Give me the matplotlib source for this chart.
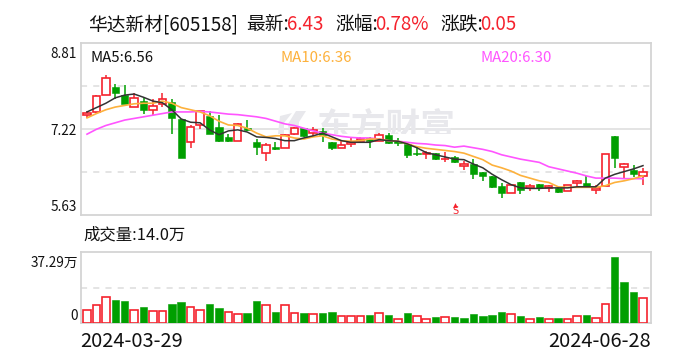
import matplotlib
matplotlib.use("Agg")
import matplotlib.pyplot as plt
from matplotlib.patches import Rectangle

plt.rcParams['font.family'] = ['Noto Sans CJK SC', 'DejaVu Sans']

W = 688
H = 360

# open, close, high, low
opens = [7.47, 7.53, 7.84, 7.99, 7.84, 7.63, 7.73, 7.57, 7.67, 7.71,
         7.40, 6.97, 7.29, 7.45, 7.25, 7.07, 6.99, 7.23, 6.98, 6.77,
         6.89, 6.87, 7.13, 7.23, 7.15, 7.18, 6.98, 6.86, 6.94, 6.99,
         7.05, 7.00, 7.11, 6.99, 6.94, 6.78, 6.76, 6.77, 6.66, 6.70,
         6.54, 6.57, 6.42, 6.35, 6.17, 6.04, 6.24, 6.12, 6.20, 6.12,
         6.13, 6.08, 6.22, 6.22, 6.10, 6.16, 7.09, 6.51, 6.46, 6.34]
closes = [7.51, 7.83, 8.16, 7.87, 7.67, 7.79, 7.56, 7.64, 7.76, 7.41,
          6.69, 7.25, 7.54, 7.13, 7.00, 7.00, 7.31, 7.19, 6.89, 6.92,
          6.84, 7.10, 7.23, 7.08, 7.20, 7.10, 6.87, 6.92, 6.97, 7.03,
          7.00, 7.10, 6.95, 6.95, 6.73, 6.75, 6.78, 6.67, 6.67, 6.60,
          6.57, 6.39, 6.35, 6.15, 6.04, 6.18, 6.10, 6.17, 6.12, 6.16,
          6.06, 6.18, 6.25, 6.14, 6.13, 6.75, 6.69, 6.57, 6.38, 6.42]
highs = [7.55, 7.85, 8.21, 8.05, 8.02, 7.88, 7.81, 7.77, 7.87, 7.76,
         7.40, 7.28, 7.54, 7.54, 7.48, 7.13, 7.33, 7.39, 7.03, 6.96,
         6.98, 7.12, 7.25, 7.23, 7.25, 7.24, 6.98, 7.00, 7.05, 7.06,
         7.07, 7.14, 7.14, 7.05, 6.96, 6.89, 6.81, 6.78, 6.79, 6.71,
         6.63, 6.67, 6.42, 6.35, 6.22, 6.18, 6.24, 6.20, 6.20, 6.18,
         6.15, 6.18, 6.28, 6.34, 6.18, 6.75, 7.09, 6.59, 6.55, 6.49]
lows = [7.42, 7.51, 7.84, 7.77, 7.67, 7.63, 7.50, 7.48, 7.63, 7.12,
        6.69, 6.86, 7.22, 7.12, 6.97, 6.97, 6.99, 7.17, 6.73, 6.62,
        6.82, 6.87, 7.10, 7.06, 7.09, 6.98, 6.82, 6.86, 6.89, 6.97,
        6.87, 6.99, 6.94, 6.91, 6.68, 6.71, 6.66, 6.65, 6.60, 6.58,
        6.46, 6.30, 6.26, 6.13, 5.94, 6.04, 6.02, 6.07, 6.08, 6.05,
        6.04, 6.08, 6.15, 6.14, 6.02, 6.16, 6.50, 6.29, 6.33, 6.19]

ma5 = [7.53, 7.61, 7.69, 7.79, 7.84, 7.86, 7.80, 7.73, 7.70, 7.57,
       7.40, 7.34, 7.33, 7.20, 7.11, 7.18, 7.20, 7.16, 7.07, 7.06,
       7.04, 7.00, 7.00, 7.05, 7.09, 7.14, 7.07, 7.00, 6.97, 6.97,
       6.97, 7.02, 7.00, 6.99, 6.94, 6.87, 6.78, 6.74, 6.70, 6.66,
       6.65, 6.57, 6.50, 6.38, 6.28, 6.19, 6.13, 6.12, 6.12, 6.13,
       6.13, 6.13, 6.15, 6.15, 6.15, 6.31, 6.38, 6.43, 6.48, 6.54]
ma10 = [7.42, 7.50, 7.57, 7.62, 7.65, 7.68, 7.69, 7.69, 7.73, 7.69,
        7.61, 7.57, 7.53, 7.46, 7.36, 7.29, 7.28, 7.23, 7.14, 7.07,
        7.09, 7.09, 7.05, 7.03, 7.07, 7.09, 7.03, 7.00, 6.99, 7.00,
        7.03, 7.03, 7.00, 6.99, 6.94, 6.89, 6.86, 6.84, 6.82, 6.80,
        6.77, 6.71, 6.65, 6.55, 6.50, 6.44, 6.36, 6.31, 6.26, 6.23,
        6.15, 6.14, 6.14, 6.14, 6.14, 6.17, 6.23, 6.26, 6.30, 6.35]
ma20 = [7.12, 7.21, 7.28, 7.33, 7.38, 7.41, 7.44, 7.47, 7.50, 7.53,
        7.53, 7.53, 7.54, 7.53, 7.51, 7.49, 7.48, 7.46, 7.44, 7.41,
        7.36, 7.31, 7.28, 7.23, 7.18, 7.14, 7.11, 7.08, 7.06, 7.05,
        7.05, 7.03, 7.00, 6.99, 6.97, 6.95, 6.94, 6.92, 6.91, 6.88,
        6.90, 6.87, 6.84, 6.80, 6.74, 6.70, 6.66, 6.63, 6.60, 6.52,
        6.48, 6.44, 6.40, 6.35, 6.31, 6.31, 6.31, 6.30, 6.30, 6.30]

volumes = [7.5, 10.3, 14.7, 13.2, 12.1, 7.5, 8.8, 6.9, 6.9, 10.4,
           11.6, 9.1, 7.5, 10.4, 8.2, 6.3, 5.2, 5.4, 12.1, 10.3,
           6.0, 10.3, 5.8, 5.4, 5.2, 5.4, 6.0, 4.1, 4.1, 4.1,
           4.3, 5.8, 4.3, 2.4, 5.4, 4.1, 2.4, 3.2, 3.5, 3.2,
           2.6, 4.8, 3.7, 4.3, 6.0, 5.2, 3.7, 2.4, 3.2, 2.4,
           2.6, 2.4, 4.1, 4.3, 3.0, 10.8, 37.29, 23.3, 17.2, 14.0]
vol_up = [1, 1, 1, 0, 0, 1, 0, 1, 1, 0,
          0, 1, 1, 0, 0, 1, 1, 0, 0, 1,
          0, 1, 1, 0, 1, 0, 0, 1, 1, 1,
          0, 1, 0, 1, 0, 1, 1, 0, 1, 0,
          0, 0, 0, 0, 0, 1, 0, 1, 0, 1,
          0, 1, 1, 0, 1, 1, 0, 0, 0, 1]

price_ticks = [8.81, 7.22, 5.63]
date_labels = ['2024-03-29', '2024-06-28']

RED = '#f5222d'
GREEN = '#009f00'
FRAME = '#d4d4d4'
GRID = '#dddddd'
TXT = '#111111'
MARK = '#e8e8ec'


def px_axes(fig, left, top, right, bottom):
    return fig.add_axes([left / W, 1 - bottom / H, (right - left) / W, (bottom - top) / H])


def px_text(x, y, s, **kw):
    kw.setdefault('va', 'center')
    kw.setdefault('color', TXT)
    # the CJK font sits a little high when centred
    return fig.text(x / W, 1 - (y + 1.5) / H, s, **kw)


def px_pt(x, y):
    return (x / W, 1 - y / H)


fig = plt.figure(figsize=(W / 100, H / 100), dpi=100)
ax = px_axes(fig, 80.5, 42.5, 651, 215)
vax = px_axes(fig, 80.5, 252, 651, 323)

xs = list(range(len(opens)))
for a in (ax, vax):
    a.set_xlim(-0.69, 59.85)
    a.set_xticks([])
    a.set_yticks([])
    for s in a.spines.values():
        s.set_color(FRAME)
        s.set_linewidth(1.3)

ax.set_ylim(price_ticks[2], price_ticks[0])
ax.axhline(7.22, color=GRID, lw=1.1, zorder=1)
ax.axhline((price_ticks[0] + price_ticks[1]) / 2, color=GRID, lw=1.1, ls=(0, (4, 4)), zorder=1)
ax.axhline((price_ticks[1] + price_ticks[2]) / 2, color=GRID, lw=1.1, ls=(0, (4, 4)), zorder=1)

# watermark, the bottom of the characters is cut off in the original
clip = Rectangle(px_pt(270, 134), 200 / W, 30 / H, transform=fig.transFigure)
wm = ax.text(0.0, 0.0, '东方财富', fontsize=25, fontweight='bold', color=MARK, ha='left', va='center',
             zorder=1, transform=fig.transFigure)
wm.set_position(px_pt(317, 127))
wm.set_clip_path(clip)
wm.set_clip_on(True)
logo = [[(296, 111), (306, 111), (299, 122), (298, 134), (289, 134), (288, 124)],
        [(280, 116), (292, 113), (284, 123), (284, 134), (278, 134)]]
for pts in logo:
    ax.fill(*zip(*[px_pt(*p) for p in pts]), color=MARK, lw=0, transform=fig.transFigure, zorder=1, clip_on=False)

for i in xs:
    up = closes[i] >= opens[i]
    c = RED if up else GREEN
    ax.vlines(i, lows[i], highs[i], color=c, lw=1.1, zorder=2)
    ax.bar(i, abs(closes[i] - opens[i]), bottom=min(opens[i], closes[i]), width=0.78,
           facecolor='white' if up else c, edgecolor=c, linewidth=1.2 if up else 0.4, zorder=3)

ax.plot(xs, ma20, color='#ff55ff', lw=1.2, zorder=4)
ax.plot(xs, ma10, color='#fdb13c', lw=1.2, zorder=5)
ax.plot(xs, ma5, color='#333333', lw=1.1, zorder=6)

# the small S flag under the candles
ax.text(39.05, 5.70, 'S', color=RED, fontsize=7, ha='center', va='center', zorder=6,
        family='DejaVu Sans')
ax.plot([39.05], [5.82], marker='^', ms=3.5, color=RED, mew=0, zorder=6)

vax.set_ylim(0, 39.9)
vax.axhline(19.8, color=GRID, lw=1.1, ls=(0, (4, 4)), zorder=1)
for i in xs:
    c = RED if vol_up[i] else GREEN
    vax.bar(i, volumes[i], width=0.8, facecolor='white' if vol_up[i] else c, edgecolor=c,
            linewidth=1.2 if vol_up[i] else 0.4, zorder=3)

# header
px_text(88, 23, '华达新材[605158]', fontsize=13.5)
px_text(246, 23, '最新:', fontsize=13.5)
px_text(287, 23, '6.43', fontsize=13.5, color=RED)
px_text(335, 23, '涨幅:', fontsize=13.5)
px_text(375, 23, '0.78%', fontsize=13.5, color=RED)
px_text(440, 23, '涨跌:', fontsize=13.5)
px_text(480, 23, '0.05', fontsize=13.5, color=RED)

px_text(90.5, 56, 'MA5:6.56', fontsize=10.8)
px_text(280, 56, 'MA10:6.36', fontsize=10.8, color='#fdb13c')
px_text(480, 56, 'MA20:6.30', fontsize=10.8, color='#ff55ff')

px_text(77, 52, '8.81', fontsize=9.8, ha='right')
px_text(77, 129, '7.22', fontsize=9.8, ha='right')
px_text(77, 206, '5.63', fontsize=9.8, ha='right')

px_text(83, 233, '成交量:14.0万', fontsize=11.8)
px_text(78, 261, '37.29万', fontsize=9.8, ha='right')
px_text(78, 315, '0', fontsize=9.8, ha='right')

px_text(80, 340, date_labels[0], fontsize=14.4)
px_text(651, 340, date_labels[1], fontsize=14.4, ha='right')

fig.savefig('out.png', dpi=100)
